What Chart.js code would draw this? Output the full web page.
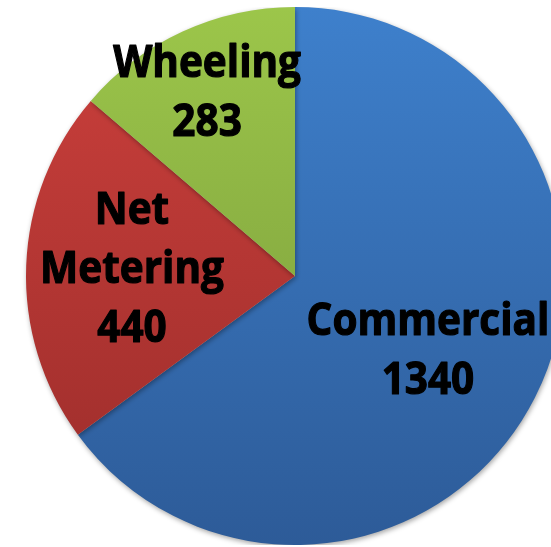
<!DOCTYPE html>
<html>
<head>
<meta charset="utf-8">
<script src="https://cdn.jsdelivr.net/npm/chart.js@4"></script>
<style>
  html, body { margin: 0; padding: 0; background: #fff; overflow: hidden; }
  #wrap { position: absolute; left: 0; top: 7px; width: 590px; height: 538px; }
</style>
</head>
<body>
<div id="wrap"><canvas id="pieChart"></canvas></div>
<script>
const categories = ['Commercial', 'Net Metering', 'Wheeling'];
const values = [1340, 440, 283];
const labelLines = [['Commercial', '1340'], ['Net', 'Metering', '440'], ['Wheeling', '283']];

const topColors = ['#3e80cc', '#cc403c', '#9cc64a'];
const bottomColors = ['#2d5b98', '#9a2c2a', '#76963a'];
// where each label block sits: fraction of radius, angle nudge in degrees
const labelRadius = [0.562, 0.607, 0.765];
const labelNudge = [1.5, 1, -0.6];

function sliceFill(context) {
    const chart = context.chart;
    const area = chart.chartArea;
    if (!area) return topColors[context.dataIndex];
    const g = chart.ctx.createLinearGradient(0, area.top, 0, area.bottom);
    g.addColorStop(0, topColors[context.dataIndex]);
    g.addColorStop(1, bottomColors[context.dataIndex]);
    return g;
}

const shadowPlugin = {
    id: 'shadow',
    beforeDatasetDraw(chart) {
        const ctx = chart.ctx;
        ctx.save();
        ctx.shadowColor = 'rgba(0,0,0,0.35)';
        ctx.shadowBlur = 5;
        ctx.shadowOffsetX = 1;
        ctx.shadowOffsetY = 2;
    },
    afterDatasetDraw(chart) {
        chart.ctx.restore();
    }
};

const labelPlugin = {
    id: 'sliceLabels',
    afterDatasetsDraw(chart) {
        const ctx = chart.ctx;
        const meta = chart.getDatasetMeta(0);
        const fontSize = 45;
        const capH = fontSize * 0.714;
        const lh = 59;
        ctx.save();
        ctx.fillStyle = '#000';
        ctx.strokeStyle = '#000';
        ctx.lineWidth = 1.2;
        ctx.lineJoin = 'round';
        ctx.font = 'bold ' + fontSize + 'px "Open Sans"';
        ctx.textAlign = 'center';
        ctx.textBaseline = 'alphabetic';
        meta.data.forEach((arc, i) => {
            const mid = (arc.startAngle + arc.endAngle) / 2 + labelNudge[i] * Math.PI / 180;
            const r = arc.outerRadius * labelRadius[i];
            const cx = arc.x + Math.cos(mid) * r;
            const cy = arc.y + Math.sin(mid) * r;
            const lines = labelLines[i];
            lines.forEach((t, k) => {
                const y = cy + (k - (lines.length - 1) / 2) * lh + capH / 2;
                ctx.save();
                ctx.translate(cx, y);
                ctx.scale(0.9, 1);
                ctx.fillText(t, 0, 0);
                ctx.strokeText(t, 0, 0);
                ctx.restore();
            });
        });
        ctx.restore();
    }
};

new Chart(document.getElementById('pieChart'), {
    type: 'pie',
    data: {
        labels: categories,
        datasets: [{
            data: values,
            backgroundColor: sliceFill,
            borderWidth: 0
        }]
    },
    options: {
        responsive: true,
        maintainAspectRatio: false,
        animation: false,
        layout: { padding: 0 },
        plugins: {
            legend: { display: false },
            tooltip: { enabled: false }
        }
    },
    plugins: [shadowPlugin, labelPlugin]
});
</script>
</body>
</html>
